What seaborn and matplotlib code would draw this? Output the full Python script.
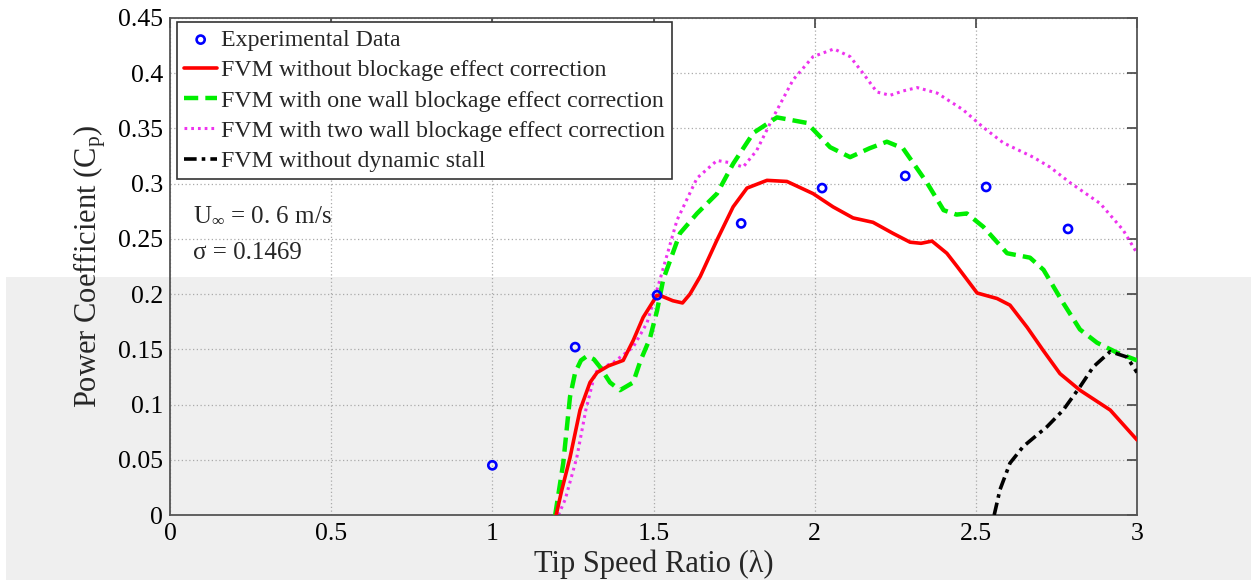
import matplotlib
matplotlib.use("Agg")
import matplotlib.pyplot as plt
import seaborn as sns
import pandas as pd
from matplotlib.patches import Rectangle

# ---------------- data ----------------
exp_x = [1.0, 1.257, 1.511, 1.772, 2.023, 2.281, 2.532, 2.786]
exp_y = [0.045, 0.152, 0.199, 0.264, 0.296, 0.307, 0.297, 0.259]

red_x = [1.198, 1.215, 1.241, 1.272, 1.303, 1.325, 1.36, 1.406, 1.437, 1.468, 1.511,
         1.527, 1.56, 1.59, 1.613, 1.645, 1.697, 1.747, 1.79, 1.852, 1.914, 1.995,
         2.057, 2.119, 2.181, 2.243, 2.296, 2.33, 2.364, 2.41, 2.442, 2.504, 2.566,
         2.606, 2.659, 2.709, 2.761, 2.823, 2.917, 3.0]
red_y = [0.0, 0.022, 0.052, 0.095, 0.120, 0.129, 0.135, 0.140, 0.158, 0.179, 0.199,
         0.198, 0.194, 0.192, 0.200, 0.216, 0.249, 0.279, 0.296, 0.303, 0.302, 0.291,
         0.279, 0.269, 0.265, 0.255, 0.247, 0.246, 0.248, 0.237, 0.225, 0.201, 0.196,
         0.190, 0.170, 0.149, 0.128, 0.113, 0.095, 0.068]

green_x = [1.195, 1.22, 1.241, 1.257, 1.275, 1.294, 1.315, 1.334, 1.365, 1.396, 1.437,
           1.46, 1.489, 1.511, 1.53, 1.582, 1.635, 1.697, 1.747, 1.81, 1.883, 1.976,
           2.048, 2.11, 2.17, 2.224, 2.274, 2.348, 2.40, 2.44, 2.472, 2.523, 2.597,
           2.668, 2.71, 2.771, 2.823, 2.876, 2.938, 3.0]
green_y = [0.0, 0.047, 0.107, 0.129, 0.140, 0.144, 0.141, 0.134, 0.120, 0.113, 0.120,
           0.140, 0.160, 0.185, 0.213, 0.255, 0.273, 0.291, 0.318, 0.346, 0.360, 0.355,
           0.333, 0.324, 0.332, 0.338, 0.332, 0.301, 0.276, 0.272, 0.273, 0.261, 0.237,
           0.233, 0.222, 0.192, 0.168, 0.156, 0.147, 0.140]

mag_x = [1.205, 1.226, 1.262, 1.29, 1.319, 1.345, 1.375, 1.437, 1.48, 1.52, 1.573,
         1.635, 1.697, 1.737, 1.778, 1.82, 1.871, 1.933, 1.995, 2.06, 2.11, 2.15,
         2.193, 2.234, 2.275, 2.318, 2.38, 2.46, 2.523, 2.585, 2.678, 2.73, 2.792,
         2.886, 2.957, 3.0]
mag_y = [0.0, 0.014, 0.052, 0.095, 0.129, 0.134, 0.138, 0.152, 0.174, 0.213, 0.267,
         0.305, 0.321, 0.319, 0.315, 0.330, 0.360, 0.394, 0.415, 0.422, 0.415, 0.400,
         0.383, 0.380, 0.384, 0.387, 0.382, 0.367, 0.351, 0.337, 0.324, 0.315, 0.301,
         0.282, 0.258, 0.237]

blk_x = [2.557, 2.575, 2.606, 2.647, 2.721, 2.771, 2.823, 2.864, 2.917, 2.969, 3.0]
blk_y = [0.0, 0.023, 0.047, 0.062, 0.080, 0.095, 0.116, 0.134, 0.148, 0.143, 0.129]

labels = ["Experimental Data",
          "FVM without blockage effect correction",
          "FVM with one wall blockage effect correction",
          "FVM with two wall blockage effect correction",
          "FVM without dynamic stall"]

x_ticks = [0, 0.5, 1, 1.5, 2, 2.5, 3]
x_tick_labels = ["0", "0.5", "1", "1.5", "2", "2.5", "3"]
y_ticks = [0, 0.05, 0.1, 0.15, 0.2, 0.25, 0.3, 0.35, 0.4, 0.45]
y_tick_labels = ["0", "0.05", "0.1", "0.15", "0.2", "0.25", "0.3", "0.35", "0.4", "0.45"]

# ---------------- style ----------------
sns.set_theme(style="white")
plt.rcParams["font.family"] = ["Liberation Serif", "DejaVu Serif"]
plt.rcParams["mathtext.fontset"] = "custom"
plt.rcParams["mathtext.rm"] = "Liberation Serif"
plt.rcParams["mathtext.it"] = "Liberation Serif:italic"
plt.rcParams["mathtext.cal"] = "Liberation Serif"
plt.rcParams["lines.solid_joinstyle"] = "round"
plt.rcParams["lines.dash_joinstyle"] = "round"

fig = plt.figure(figsize=(12.51, 5.8), dpi=100)
fig.patch.set_facecolor("white")
fig.add_artist(Rectangle((6 / 1251, 0), 1, 1 - 277 / 580, transform=fig.transFigure,
                         facecolor="#efefef", edgecolor="none", zorder=-5))

ax = fig.add_axes([170 / 1251, 1 - 515 / 580, (1137 - 170) / 1251, (515 - 18) / 580])
ax.set_facecolor("none")

sns.scatterplot(x=exp_x, y=exp_y, ax=ax, marker="o", s=34, facecolors="none",
                edgecolors="#0000ff", linewidths=1.9, label=labels[0], zorder=6)
sns.lineplot(x=red_x, y=red_y, ax=ax, color="#ff0000", lw=2.6, label=labels[1], zorder=4)
sns.lineplot(x=green_x, y=green_y, ax=ax, color="#00ee00", lw=3.2, label=labels[2],
             zorder=3)
ax.lines[-1].set_dashes((3.2, 1.6))
sns.lineplot(x=mag_x, y=mag_y, ax=ax, color="#ee33ee", lw=2.2, label=labels[3], zorder=2)
ax.lines[-1].set_dashes((0.9, 1.3))
sns.lineplot(x=blk_x, y=blk_y, ax=ax, color="black", lw=2.6, label=labels[4], zorder=5)
ax.lines[-1].set_dashes((3.5, 1.4, 1.0, 1.4))

ax.set_xlim(0, 3)
ax.set_ylim(0, 0.45)
ax.set_xticks(x_ticks)
ax.set_xticklabels(x_tick_labels)
ax.set_yticks(y_ticks)
ax.set_yticklabels(y_tick_labels)
ax.tick_params(direction="in", length=7, width=1.2, colors="#444444", labelcolor="black",
               labelsize=18.5, top=True, right=True)
ax.tick_params(axis="x", pad=6)
ax.tick_params(axis="y", pad=5)
ax.grid(True, linestyle=(0, (1, 2)), color="#aaaaaa", linewidth=0.9)
for s in ax.spines.values():
    s.set_color("#555555")
    s.set_linewidth(1.3)

ax.set_xlabel("Tip Speed Ratio (λ)", fontsize=22, labelpad=3)
ax.set_ylabel(r"Power Coefficient (C$_\mathrm{p}$)", fontsize=22, labelpad=7)

ax.text(0.07, 0.266, r"U$_\infty$ = 0. 6 m/s", fontsize=18)
ax.text(0.07, 0.232, "σ = 0.1469", fontsize=18)

leg = ax.legend(loc="upper left", bbox_to_anchor=(0.007, 0.992), borderaxespad=0,
                fontsize=17.2, frameon=True, fancybox=False, edgecolor="#333333",
                framealpha=1, handlelength=1.4, handletextpad=0.15, labelspacing=0.36,
                borderpad=0.3)
leg.get_frame().set_linewidth(1.2)

fig.savefig("out.png", dpi=100)
